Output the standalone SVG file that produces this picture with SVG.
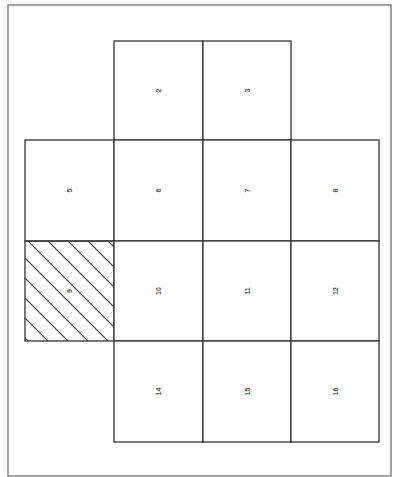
<svg xmlns="http://www.w3.org/2000/svg" width="393" height="477" viewBox="0 0 393 477">
<style>
.cell{fill:#fff;stroke:#333;stroke-width:1.3}
.lbl{font-family:"Liberation Sans",Arial,sans-serif;font-size:7px;font-weight:bold;fill:#555;text-anchor:middle;dominant-baseline:central}
</style>
<defs>
<pattern id="hatch" patternUnits="userSpaceOnUse" x="7" y="0" width="20" height="20">
<path d="M0,0 L20,20 M-5,15 L5,25 M15,-5 L25,5" stroke="#333" stroke-width="1.2" fill="none"/>
</pattern>
</defs>
<rect x="0" y="0" width="393" height="477" fill="#fff"/>
<rect x="8" y="5" width="383" height="471" fill="none" stroke="#666" stroke-width="1.2"/>
<g id="n2"><rect class="cell" x="114" y="41" width="89" height="99"/><text class="lbl" transform="translate(158.5,90.5) rotate(-90)">2</text></g>
<g id="n3"><rect class="cell" x="203" y="41" width="88" height="99"/><text class="lbl" transform="translate(247,90.5) rotate(-90)">3</text></g>
<g id="n5"><rect class="cell" x="25" y="140" width="89" height="101"/><text class="lbl" transform="translate(69.5,190.5) rotate(-90)">5</text></g>
<g id="n6"><rect class="cell" x="114" y="140" width="89" height="101"/><text class="lbl" transform="translate(158.5,190.5) rotate(-90)">6</text></g>
<g id="n7"><rect class="cell" x="203" y="140" width="88" height="101"/><text class="lbl" transform="translate(247,190.5) rotate(-90)">7</text></g>
<g id="n8"><rect class="cell" x="291" y="140" width="88" height="101"/><text class="lbl" transform="translate(335,190.5) rotate(-90)">8</text></g>
<g id="n9"><rect class="cell" x="25" y="241" width="89" height="100" style="fill:url(#hatch)"/><text class="lbl" transform="translate(69.5,291) rotate(-90)">9</text></g>
<g id="n10"><rect class="cell" x="114" y="241" width="89" height="100"/><text class="lbl" transform="translate(158.5,291) rotate(-90)">10</text></g>
<g id="n11"><rect class="cell" x="203" y="241" width="88" height="100"/><text class="lbl" transform="translate(247,291) rotate(-90)">11</text></g>
<g id="n12"><rect class="cell" x="291" y="241" width="88" height="100"/><text class="lbl" transform="translate(335,291) rotate(-90)">12</text></g>
<g id="n14"><rect class="cell" x="114" y="341" width="89" height="101"/><text class="lbl" transform="translate(158.5,391.5) rotate(-90)">14</text></g>
<g id="n15"><rect class="cell" x="203" y="341" width="88" height="101"/><text class="lbl" transform="translate(247,391.5) rotate(-90)">15</text></g>
<g id="n16"><rect class="cell" x="291" y="341" width="88" height="101"/><text class="lbl" transform="translate(335,391.5) rotate(-90)">16</text></g>
<g id="connectors"></g>
</svg>
